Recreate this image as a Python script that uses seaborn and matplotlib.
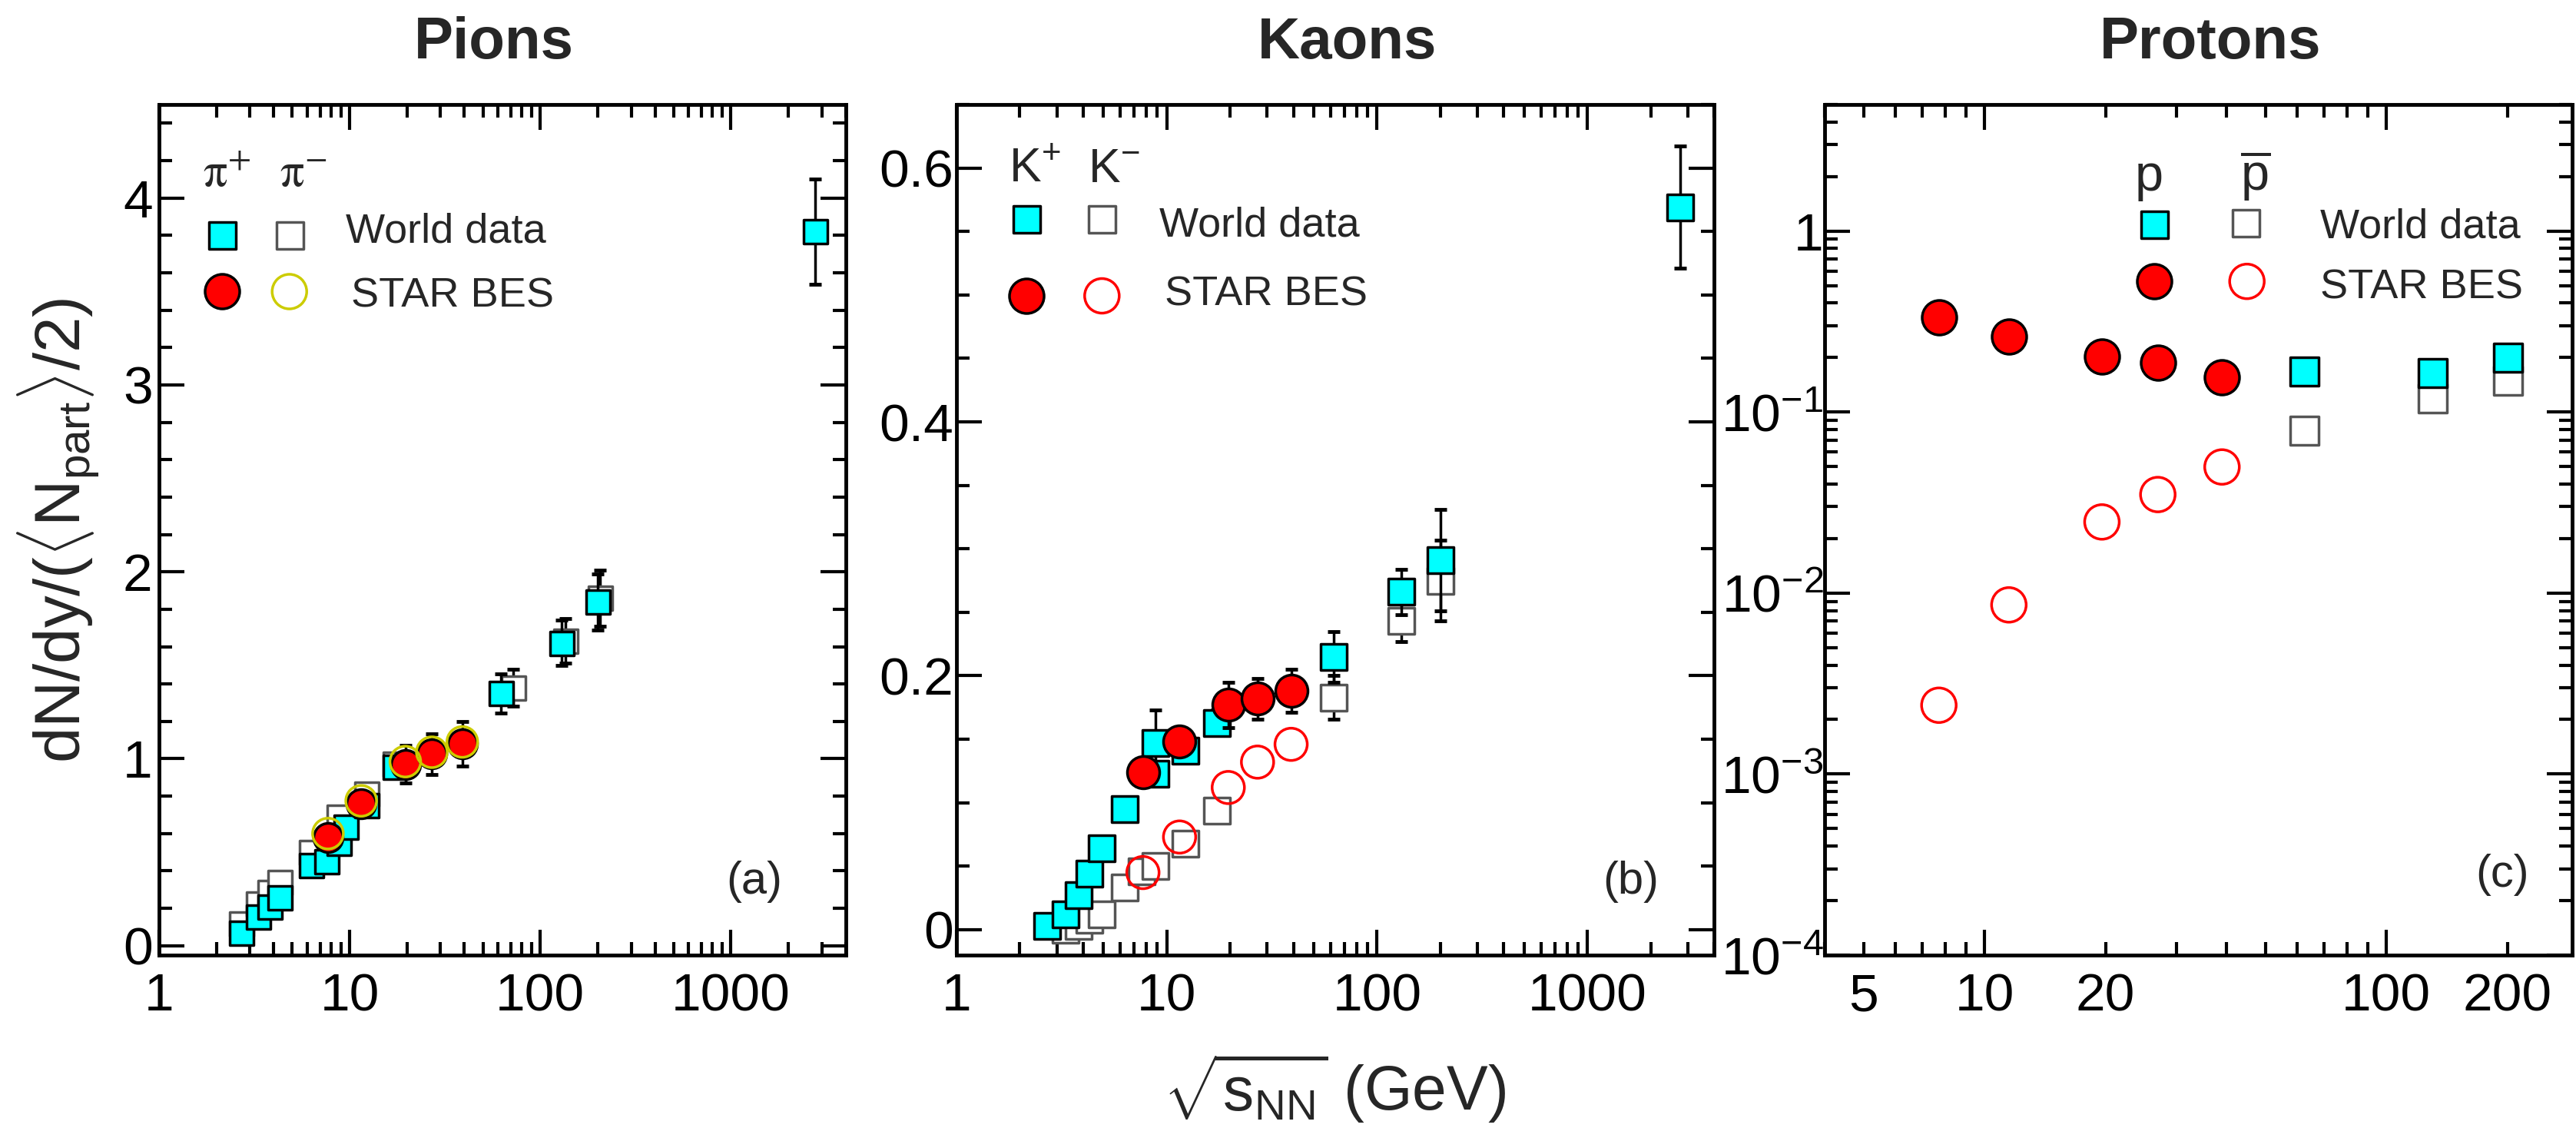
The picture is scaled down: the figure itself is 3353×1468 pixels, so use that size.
import numpy as np
import pandas as pd
import matplotlib
matplotlib.use("Agg")
import matplotlib.pyplot as plt
import seaborn as sns
from matplotlib.ticker import (FixedLocator, FuncFormatter, NullFormatter,
                               LogLocator, MultipleLocator)

# ---------------- data ----------------
# Pions
pip_world_x = [2.7, 3.3, 3.8, 4.3, 6.3, 7.6, 8.8, 9.5, 12.3, 17.3, 62.4, 130, 200, 2760]
pip_world_y = [0.07, 0.155, 0.21, 0.26, 0.43, 0.45, 0.55, 0.635, 0.75, 0.955, 1.35, 1.62, 1.84, 3.82]
pip_world_e = [0.01, 0.01, 0.01, 0.01, 0.02, 0.02, 0.02, 0.03, 0.03, 0.05, 0.105, 0.12, 0.15, 0.28]
pim_world_x = [2.7, 3.3, 3.8, 4.3, 6.3, 8.8, 12.3, 17.3, 72, 135, 205]
pim_world_y = [0.12, 0.225, 0.286, 0.34, 0.50, 0.69, 0.813, 0.975, 1.38, 1.63, 1.86]
pim_world_e = [0.01, 0.01, 0.01, 0.01, 0.02, 0.03, 0.03, 0.05, 0.1, 0.12, 0.15]
star_x = [7.7, 11.5, 19.6, 27, 39]
pip_star_y = [0.58, 0.758, 0.97, 1.025, 1.08]
pip_star_e = [0.04, 0.05, 0.10, 0.11, 0.12]
pim_star_y = [0.60, 0.775, 0.985, 1.035, 1.09]

# Kaons
kp_world_x = [2.7, 3.3, 3.8, 4.3, 4.9, 6.3, 8.8, 8.8, 12.3, 17.3, 62.4, 130, 200, 2760]
kp_world_y = [0.003, 0.012, 0.027, 0.044, 0.064, 0.095, 0.123, 0.147, 0.141, 0.163, 0.215, 0.266, 0.291, 0.569]
kp_world_e = [0.002, 0.002, 0.003, 0.004, 0.005, 0.006, 0.008, 0.026, 0.01, 0.01, 0.02, 0.018, 0.04, 0.048]
km_world_x = [3.3, 3.8, 4.3, 4.9, 6.3, 7.6, 8.8, 12.3, 17.3, 62.4, 130, 200]
km_world_y = [0.0, 0.003, 0.008, 0.012, 0.033, 0.046, 0.050, 0.068, 0.094, 0.183, 0.243, 0.275]
km_world_e = [0.002, 0.002, 0.002, 0.003, 0.003, 0.004, 0.004, 0.005, 0.006, 0.017, 0.016, 0.032]
kp_star_y = [0.124, 0.148, 0.177, 0.182, 0.188]
kp_star_e = [0.008, 0.01, 0.018, 0.016, 0.017]
km_star_y = [0.045, 0.073, 0.112, 0.132, 0.146]

# Protons
p_world_x = [62.4, 130, 200]
p_world_y = [0.169, 0.165, 0.201]
pbar_world_y = [0.079, 0.119, 0.149]
p_star_y = [0.333, 0.261, 0.203, 0.187, 0.156]
pbar_star_y = [0.0024, 0.0086, 0.0247, 0.035, 0.0497]

titles = ["Pions", "Kaons", "Protons"]
panel_tags = ["(a)", "(b)", "(c)"]

# ---------------- style ----------------
sns.set_theme(style="ticks")
plt.rcParams["font.family"] = ["Liberation Sans", "DejaVu Sans"]
plt.rcParams["mathtext.fontset"] = "custom"
plt.rcParams["mathtext.rm"] = "Liberation Sans"
plt.rcParams["mathtext.it"] = "Liberation Sans:italic"
plt.rcParams["mathtext.bf"] = "Liberation Sans:bold"
plt.rcParams["mathtext.sf"] = "Liberation Sans"
plt.rcParams["axes.linewidth"] = 3.5

CYAN = "#00FFFF"
RED = "#FF0000"
GRAY = "#555555"
YEL = "#CCCC00"

fig = plt.figure(figsize=(33.53, 14.68), dpi=100)
fig.patch.set_facecolor("white")
axA = fig.add_axes([0.0617, 0.1533, 0.2666, 0.7541])
axB = fig.add_axes([0.3713, 0.1533, 0.2941, 0.7541])
axC = fig.add_axes([0.7083, 0.1533, 0.2902, 0.7541])


def msize(px):
    return (px * 0.72) ** 2


def pts(ax, x, y, marker, px, face, edge, lw, z):
    sns.scatterplot(x=x, y=y, ax=ax, marker=marker, s=msize(px),
                    facecolor=face, edgecolor=edge, linewidth=lw,
                    zorder=z, legend=False)


def ebar(ax, x, y, e, z):
    ax.errorbar(x, y, yerr=e, fmt="none", ecolor="black", elinewidth=2.5,
                capsize=6, capthick=3.5, zorder=z)


# ---- panel a ----
ebar(axA, pim_world_x, pim_world_y, pim_world_e, 2)
pts(axA, pim_world_x, pim_world_y, "s", 31, "white", GRAY, 2.5, 3)
ebar(axA, pip_world_x, pip_world_y, pip_world_e, 4)
pts(axA, pip_world_x, pip_world_y, "s", 31, CYAN, "black", 2.5, 5)
ebar(axA, star_x, pip_star_y, pip_star_e, 6)
pts(axA, star_x, pip_star_y, "o", 38, RED, "black", 2.5, 7)
pts(axA, star_x, pim_star_y, "o", 40, "none", YEL, 2.5, 8)

# ---- panel b ----
ebar(axB, km_world_x, km_world_y, km_world_e, 2)
pts(axB, km_world_x, km_world_y, "s", 34, "white", GRAY, 2.5, 3)
ebar(axB, kp_world_x, kp_world_y, kp_world_e, 4)
pts(axB, kp_world_x, kp_world_y, "s", 34, CYAN, "black", 2.5, 5)
pts(axB, star_x, km_star_y, "o", 42, "none", RED, 2.5, 6)
ebar(axB, star_x, kp_star_y, kp_star_e, 6.5)
pts(axB, star_x, kp_star_y, "o", 42, RED, "black", 2.5, 7)

# ---- panel c ----
pts(axC, p_world_x, pbar_world_y, "s", 37, "white", GRAY, 2.5, 3)
pts(axC, p_world_x, p_world_y, "s", 37, CYAN, "black", 2.5, 5)
pts(axC, star_x, pbar_star_y, "o", 45, "none", RED, 2.5, 6)
pts(axC, star_x, p_star_y, "o", 45, RED, "black", 2.5, 7)

# ---------------- axes formatting ----------------
int_fmt = FuncFormatter(lambda v, p: "%d" % round(v))

for ax in (axA, axB, axC):
    ax.set_xscale("log")
    ax.set_xlabel("")
    ax.set_ylabel("")
    ax.set_facecolor("white")
    for s in ax.spines.values():
        s.set_linewidth(3.5)
        s.set_color("black")

for ax in (axA, axB):
    ax.set_xlim(1, 4000)
    ax.xaxis.set_major_locator(LogLocator(base=10, numticks=10))
    ax.xaxis.set_minor_locator(LogLocator(base=10, subs=np.arange(2, 10), numticks=40))
    ax.xaxis.set_major_formatter(int_fmt)
    ax.xaxis.set_minor_formatter(NullFormatter())

axA.set_ylim(-0.05, 4.5)
axA.yaxis.set_major_locator(MultipleLocator(1))
axA.yaxis.set_minor_locator(MultipleLocator(0.2))
axA.yaxis.set_major_formatter(int_fmt)

axB.set_ylim(-0.02, 0.65)
axB.yaxis.set_major_locator(FixedLocator([0, 0.2, 0.4, 0.6]))
axB.yaxis.set_minor_locator(MultipleLocator(0.05))
axB.yaxis.set_major_formatter(FuncFormatter(lambda v, p: "0" if abs(v) < 1e-9 else "%.1f" % v))

axC.set_yscale("log")
axC.set_xlim(4, 290)
axC.set_ylim(1e-4, 5)
axC.xaxis.set_major_locator(FixedLocator([10, 100]))
axC.xaxis.set_minor_locator(FixedLocator([4, 5, 6, 7, 8, 9, 20, 30, 40, 50, 60, 70, 80, 90, 200]))
axC.xaxis.set_major_formatter(int_fmt)
axC.xaxis.set_minor_formatter(FuncFormatter(lambda v, p: "%d" % round(v) if round(v) in (5, 20, 200) else ""))
axC.yaxis.set_major_locator(LogLocator(base=10, numticks=12))
axC.yaxis.set_minor_locator(LogLocator(base=10, subs=np.arange(2, 10), numticks=40))
axC.yaxis.set_minor_formatter(NullFormatter())


def cfmt(v, p):
    e = int(round(np.log10(v)))
    if e == 0:
        return "1"
    return r"$\mathdefault{10^{%d}}$" % e


axC.yaxis.set_major_formatter(FuncFormatter(cfmt))

for ax, ypad in ((axA, 6), (axB, 3), (axC, 1)):
    ax.tick_params(which="both", direction="in", top=True, right=True,
                   width=3, color="black", labelsize=50, labelcolor="black")
    ax.tick_params(which="major", length=24)
    ax.tick_params(which="minor", length=12)
    ax.tick_params(axis="x", which="both", pad=16)
    ax.tick_params(axis="y", which="both", pad=ypad)

# ---------------- legends (in axes coordinates) ----------------
def leg_marker(ax, x, y, marker, px, face, edge):
    ax.scatter([x], [y], transform=ax.transAxes, marker=marker, s=msize(px),
               facecolor=face, edgecolor=edge, linewidth=2.5, clip_on=False, zorder=10)


# a
axA.text(0.064, 0.903, r"$\mathrm{\pi}^{+}$", transform=axA.transAxes, fontsize=45,
         math_fontfamily="stix", ha="left", va="baseline")
axA.text(0.176, 0.903, r"$\mathrm{\pi}^{-}$", transform=axA.transAxes, fontsize=45,
         math_fontfamily="stix", ha="left", va="baseline")
leg_marker(axA, 0.092, 0.846, "s", 35, CYAN, "black")
leg_marker(axA, 0.19, 0.846, "s", 35, "white", GRAY)
leg_marker(axA, 0.092, 0.78, "o", 45, RED, "black")
leg_marker(axA, 0.19, 0.78, "o", 45, "none", YEL)
axA.text(0.272, 0.838, "World data", transform=axA.transAxes, fontsize=39, va="baseline")
axA.text(0.28, 0.762, "STAR BES", transform=axA.transAxes, fontsize=39, va="baseline")

# b
axB.text(0.069, 0.909, r"K$^{+}$", transform=axB.transAxes, fontsize=45, va="baseline")
axB.text(0.173, 0.909, r"K$^{-}$", transform=axB.transAxes, fontsize=45, va="baseline")
leg_marker(axB, 0.092, 0.865, "s", 35, CYAN, "black")
leg_marker(axB, 0.192, 0.865, "s", 35, "white", GRAY)
leg_marker(axB, 0.092, 0.775, "o", 45, RED, "black")
leg_marker(axB, 0.192, 0.775, "o", 45, "none", RED)
axB.text(0.268, 0.845, "World data", transform=axB.transAxes, fontsize=39, va="baseline")
axB.text(0.275, 0.764, "STAR BES", transform=axB.transAxes, fontsize=39, va="baseline")

# c
axC.text(0.415, 0.899, "p", transform=axC.transAxes, fontsize=48, va="baseline")
axC.text(0.556, 0.899, r"$\overline{\mathrm{p}}$", transform=axC.transAxes, fontsize=48, va="baseline")
leg_marker(axC, 0.441, 0.859, "s", 35, CYAN, "black")
leg_marker(axC, 0.563, 0.861, "s", 35, "white", GRAY)
leg_marker(axC, 0.441, 0.792, "o", 45, RED, "black")
leg_marker(axC, 0.565, 0.792, "o", 45, "none", RED)
axC.text(0.663, 0.843, "World data", transform=axC.transAxes, fontsize=39, va="baseline")
axC.text(0.663, 0.772, "STAR BES", transform=axC.transAxes, fontsize=39, va="baseline")

# panel tags
for ax, tag, xf, yf in ((axA, panel_tags[0], 0.867, 0.086),
                        (axB, panel_tags[1], 0.89, 0.086),
                        (axC, panel_tags[2], 0.907, 0.094)):
    ax.text(xf, yf, tag, transform=ax.transAxes, fontsize=43, ha="center", va="center")

# titles
for t, xc in zip(titles, (643, 1754, 2877)):
    fig.text(xc / 3353, 0.948, t, ha="center", va="baseline", fontsize=55, fontweight="bold")

# axis labels
fig.text(1737 / 3353, 0.0157, r"$\sqrt{\mathrm{s}_{\mathrm{NN}}}$ (GeV)", ha="center",
         va="baseline", fontsize=58)
fig.text(76 / 3353, 0.53, r"dN/dy/($\langle$N$_{\mathrm{part}}\rangle$/2)", rotation=90,
         ha="center", va="center", fontsize=60)

fig.savefig("out.png", dpi=100, facecolor="white")
